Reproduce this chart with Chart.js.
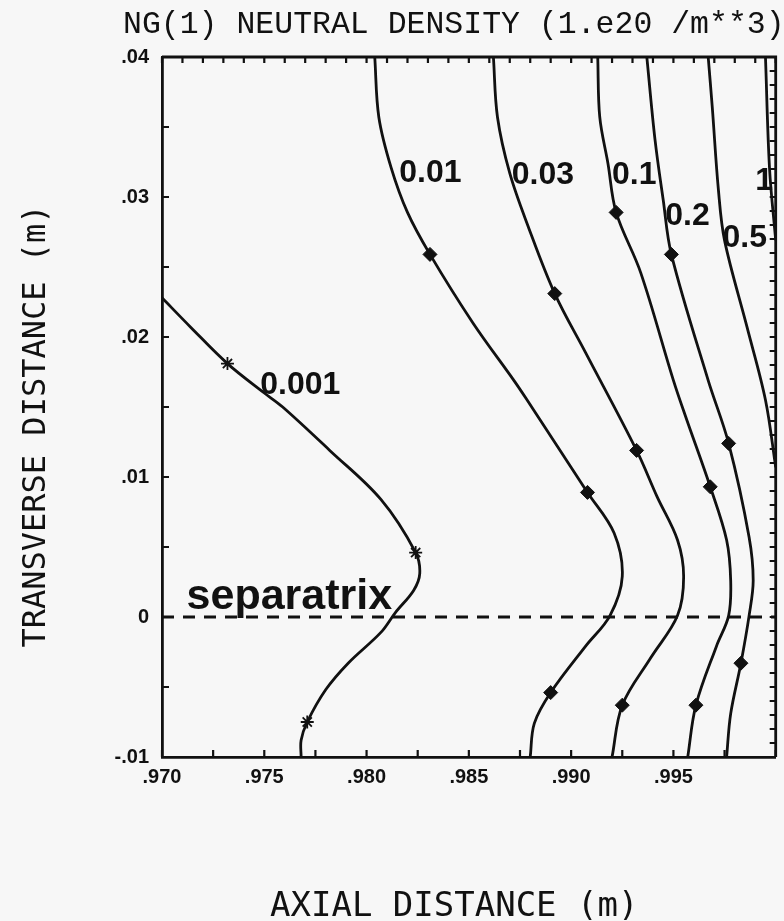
<!DOCTYPE html>
<html>
<head>
<meta charset="utf-8">
<title>NG(1) neutral density</title>
<script src="https://cdn.jsdelivr.net/npm/chart.js@4.4.1/dist/chart.umd.min.js"></script>
<style>
  html, body { margin: 0; padding: 0; background: #f7f7f7; }
  #wrap { width: 784px; height: 921px; position: relative; }
</style>
</head>
<body>
<div id="wrap"><canvas id="ngChart"></canvas></div>
<script>
// contour lines, [axial m, transverse m] (top to bottom)
var level0001 = [[0.9700, 0.0228], [0.9714, 0.0207], [0.9732, 0.0181], [0.9750, 0.0160], [0.9759, 0.0150],
  [0.9782, 0.0119], [0.9807, 0.0084], [0.9824, 0.0046], [0.9826, 0.0031], [0.9823, 0.0019], [0.9814, 0.0003],
  [0.9807, -0.0011], [0.9791, -0.0033], [0.9780, -0.0052], [0.9771, -0.0075], [0.9768, -0.0088], [0.9768, -0.0100]];
var level001 = [[0.9804, 0.0400], [0.9806, 0.0357], [0.9812, 0.0321], [0.9820, 0.0289], [0.9831, 0.0259],
  [0.9852, 0.0210], [0.9872, 0.0169], [0.9878, 0.0156], [0.9908, 0.0089], [0.9921, 0.0060], [0.9925, 0.0029],
  [0.9919, 0.0001], [0.9907, -0.0021], [0.9890, -0.0054], [0.9882, -0.0076], [0.9880, -0.0100]];
var level003 = [[0.9862, 0.0400], [0.9864, 0.0357], [0.9870, 0.0317], [0.9879, 0.0279], [0.9892, 0.0231],
  [0.9907, 0.0189], [0.9932, 0.0119], [0.9942, 0.0086], [0.9952, 0.0055], [0.9955, 0.0029],
  [0.9952, 0.0001], [0.9939, -0.0029], [0.9925, -0.0063], [0.9920, -0.0100]];
var level01 = [[0.9913, 0.0400], [0.9914, 0.0357], [0.9918, 0.0324], [0.9922, 0.0289], [0.9934, 0.0246],
  [0.9950, 0.0169], [0.9956, 0.0143], [0.9968, 0.0093], [0.9976, 0.0055], [0.9978, 0.0026], [0.9977, 0.0001],
  [0.9971, -0.0021], [0.9961, -0.0063], [0.9957, -0.0100]];
var level02 = [[0.9937, 0.0400], [0.9941, 0.0341], [0.9945, 0.0298], [0.9949, 0.0259], [0.9967, 0.0169],
  [0.9977, 0.0124], [0.9987, 0.0057], [0.9989, 0.0026], [0.9987, 0.0001], [0.9983, -0.0033], [0.9978, -0.0069],
  [0.9976, -0.0100]];
var level05 = [[0.9967, 0.0400], [0.9969, 0.0364], [0.9972, 0.0305], [0.9975, 0.0269], [0.9986, 0.0207],
  [0.9995, 0.0155], [1.0000, 0.0107]];
var level1 = [[0.9995, 0.0400], [0.9997, 0.0320], [1.0000, 0.0269]];
var separatrix = [[0.970, 0], [1.000, 0]];

// plotted symbols on the lines
var starMarks = [[0.9732, 0.0181], [0.9824, 0.0046], [0.9771, -0.0075]];
var blobMarks = [[0.9831, 0.0259], [0.9908, 0.0089], [0.9890, -0.0054],
  [0.9892, 0.0231], [0.9932, 0.0119], [0.9925, -0.0063],
  [0.9922, 0.0289], [0.9968, 0.0093], [0.9961, -0.0063],
  [0.9949, 0.0259], [0.9977, 0.0124], [0.9983, -0.0033]];

// contour labels, anchored at left / baseline
var levelNames = ['0.001', '0.01', '0.03', '0.1', '0.2', '0.5', '1'];
var levelNameAt = [[0.9748, 0.0159], [0.9816, 0.0311], [0.9871, 0.0309], [0.9920, 0.0309],
  [0.9946, 0.0280], [0.9974, 0.0264], [0.9990, 0.0305]];

var xTickValues = [0.970, 0.975, 0.980, 0.985, 0.990, 0.995];
var xTickLabels = ['.970', '.975', '.980', '.985', '.990', '.995'];
var yTickValues = [-0.01, 0, 0.01, 0.02, 0.03, 0.04];
var yTickLabels = ['-.01', '0', '.01', '.02', '.03', '.04'];

var ink = '#111111';

function pts(list) {
  return list.map(function(p) { return { x: p[0], y: p[1] }; });
}

function contour(list) {
  return { data: pts(list), showLine: true, borderColor: ink, borderWidth: 2.8, pointRadius: 0, tension: 0.35, fill: false };
}

// frame on top/right plus the small inward ticks on all four sides
var frameTicks = {
  id: 'frameTicks',
  afterDatasetsDraw: function(chart) {
    var a = chart.chartArea, xs = chart.scales.x, ys = chart.scales.y, c = chart.ctx;
    var i, p;
    c.save();
    c.strokeStyle = ink;
    c.lineWidth = 2.8;
    c.beginPath();
    c.moveTo(a.left, a.top); c.lineTo(a.right, a.top); c.lineTo(a.right, a.bottom);
    c.stroke();
    c.lineWidth = 2.2;
    c.beginPath();
    for (i = 0; i <= 30; i++) { p = xs.getPixelForValue(0.970 + i * 0.001); c.moveTo(p, a.top); c.lineTo(p, a.top + 6); }
    for (i = 0; i <= 12; i++) { p = xs.getPixelForValue(0.970 + i * 0.0025); c.moveTo(p, a.bottom); c.lineTo(p, a.bottom - 7); }
    for (i = 0; i <= 10; i++) { p = ys.getPixelForValue(-0.01 + i * 0.005); c.moveTo(a.left, p); c.lineTo(a.left + 7, p); }
    for (i = 0; i <= 50; i++) { p = ys.getPixelForValue(-0.01 + i * 0.001); c.moveTo(a.right, p); c.lineTo(a.right - 6, p); }
    c.stroke();
    c.restore();
  }
};

// level labels + separatrix text, placed in data coordinates
var levelText = {
  id: 'levelText',
  afterDatasetsDraw: function(chart) {
    var xs = chart.scales.x, ys = chart.scales.y, c = chart.ctx;
    c.save();
    c.fillStyle = ink;
    c.textAlign = 'left';
    c.textBaseline = 'alphabetic';
    c.font = 'bold 32px "Liberation Sans", Arial, sans-serif';
    levelNames.forEach(function(name, i) {
      c.fillText(name, xs.getPixelForValue(levelNameAt[i][0]), ys.getPixelForValue(levelNameAt[i][1]));
    });
    c.font = 'bold 43px "Liberation Sans", Arial, sans-serif';
    c.fillText('separatrix', xs.getPixelForValue(0.9712), ys.getPixelForValue(0.0006));
    c.restore();
  }
};

// page title and axis titles in the plotter's mono lettering
var pageText = {
  id: 'pageText',
  afterDraw: function(chart) {
    var c = chart.ctx;
    c.save();
    c.fillStyle = ink;
    c.textBaseline = 'alphabetic';
    c.textAlign = 'left';
    c.font = '31.5px "Liberation Mono", monospace';
    c.fillText('NG(1) NEUTRAL DENSITY (1.e20 /m**3)', 123, 33);
    c.font = '34px "DejaVu Sans Mono", monospace';
    c.fillText('AXIAL DISTANCE (m)', 270, 916);
    c.translate(45, 426);
    c.rotate(-Math.PI / 2);
    c.textAlign = 'center';
    c.font = '32px "DejaVu Sans Mono", monospace';
    c.fillText('TRANSVERSE DISTANCE (m)', 0, 0);
    c.restore();
  }
};

var tickFont = { family: '"Liberation Sans", Arial, sans-serif', size: 20, weight: 'bold' };

new Chart(document.getElementById('ngChart'), {
  type: 'scatter',
  data: {
    datasets: [
      contour(level0001), contour(level001), contour(level003), contour(level01),
      contour(level02), contour(level05), contour(level1),
      { data: pts(separatrix), showLine: true, borderColor: ink, borderWidth: 2.8, borderDash: [12, 9], pointRadius: 0 },
      { data: pts(starMarks), pointStyle: 'star', pointRadius: 6.5, borderColor: ink, borderWidth: 1.8, backgroundColor: ink },
      { data: pts(blobMarks), pointStyle: 'rectRot', pointRadius: 7, borderColor: ink, borderWidth: 1, backgroundColor: ink }
    ]
  },
  options: {
    responsive: true,
    maintainAspectRatio: false,
    animation: false,
    events: [],
    layout: { padding: { top: 57, right: 3, left: 0, bottom: 0 } },
    plugins: { legend: { display: false }, tooltip: { enabled: false } },
    scales: {
      x: {
        type: 'linear', position: 'bottom', min: 0.970, max: 1.000,
        afterFit: function(s) { s.height = 164; },
        afterBuildTicks: function(s) { s.ticks = xTickValues.map(function(v) { return { value: v }; }); },
        ticks: { callback: function(v, i) { return xTickLabels[i]; }, font: tickFont, color: ink, padding: 8, maxRotation: 0, autoSkip: false },
        grid: { display: false, drawTicks: false },
        border: { display: true, color: ink, width: 2.8 }
      },
      y: {
        type: 'linear', position: 'left', min: -0.01, max: 0.04,
        afterFit: function(s) { s.width = 162; },
        afterBuildTicks: function(s) { s.ticks = yTickValues.map(function(v) { return { value: v }; }); },
        ticks: { callback: function(v, i) { return yTickLabels[i]; }, font: tickFont, color: ink, padding: 13, autoSkip: false },
        grid: { display: false, drawTicks: false },
        border: { display: true, color: ink, width: 2.8 }
      }
    }
  },
  plugins: [frameTicks, levelText, pageText]
});
</script>
</body>
</html>
